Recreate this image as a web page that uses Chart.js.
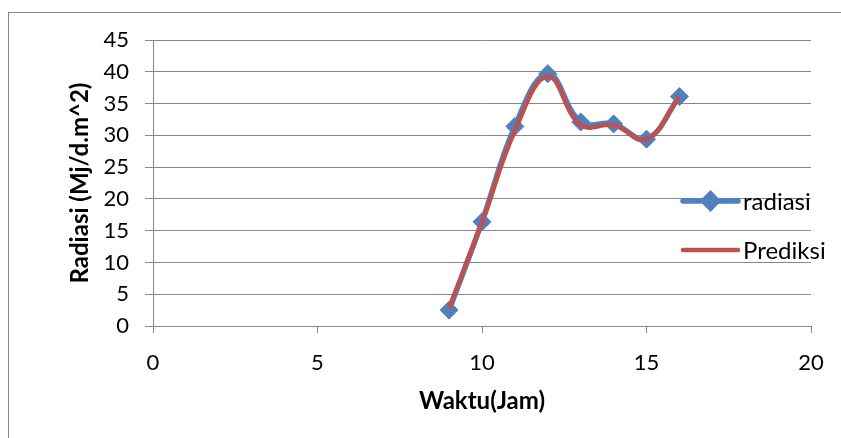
<!DOCTYPE html>
<html>
<head>
<meta charset="utf-8">
<title>Radiasi</title>
<script src="https://cdn.jsdelivr.net/npm/chart.js@4.4.1/dist/chart.umd.min.js"></script>
<style>
    body { margin: 0; background: #fff; }
    #wrap { width: 841px; height: 438px; }
</style>
</head>
<body>
<div id="wrap"><canvas id="radiasiChart" width="841" height="438"></canvas></div>
<script>
// Data
const jam = [9, 10, 11, 12, 13, 14, 15, 16];
const radiasi = [2.5, 16.4, 31.4, 39.7, 32.1, 31.8, 29.4, 36.1];
const prediksi = [2.8, 16.3, 30.7, 39.3, 31.6, 31.6, 29.4, 36.0];
const xTicks = [0, 5, 10, 15, 20];
const yTicks = [0, 5, 10, 15, 20, 25, 30, 35, 40, 45];

const BLUE = '#4F81BD';
const RED = '#C0504D';
const GRID = '#878787';
const FONT = 'Lato';

function toPoints(ys) {
    return jam.map((x, i) => ({ x: x, y: ys[i] }));
}

// Outer chart frame (Excel style)
const framePlugin = {
    id: 'frame',
    beforeDraw(chart) {
        const ctx = chart.ctx;
        ctx.save();
        ctx.fillStyle = '#fff';
        ctx.fillRect(0, 0, chart.width, chart.height);
        ctx.strokeStyle = GRID;
        ctx.lineWidth = 1;
        ctx.strokeRect(8.5, 12.5, chart.width + 20, chart.height + 20);
        ctx.restore();
    }
};

// Legend drawn over the plot area, like the original
const legendPlugin = {
    id: 'overlayLegend',
    afterDraw(chart) {
        const ctx = chart.ctx;
        const area = chart.chartArea;
        const lineX0 = area.right - 128;
        const lineX1 = area.right - 73;
        const textX = area.right - 68;
        const rows = [area.top + 161, area.top + 210];
        ctx.save();
        ctx.font = '24px ' + FONT;
        ctx.textBaseline = 'middle';
        ctx.fillStyle = '#000';
        chart.data.datasets.forEach((ds, i) => {
            const y = rows[i];
            ctx.strokeStyle = ds.borderColor;
            ctx.lineWidth = ds.borderWidth;
            ctx.lineCap = 'round';
            ctx.beginPath();
            ctx.moveTo(lineX0, y);
            ctx.lineTo(lineX1, y);
            ctx.stroke();
            if (ds.pointRadius > 0) {
                Chart.helpers.drawPoint(ctx, {
                    pointStyle: ds.pointStyle,
                    radius: 7,
                    borderWidth: 1
                }, (lineX0 + lineX1) / 2, y);
                ctx.fillStyle = ds.backgroundColor;
                ctx.fill();
                ctx.fillStyle = '#000';
            }
            ctx.fillText(ds.label, textX, y + 1);
        });
        ctx.restore();
    }
};

const ctx = document.getElementById('radiasiChart').getContext('2d');
const chart = new Chart(ctx, {
    type: 'scatter',
    data: {
        datasets: [{
            label: 'radiasi',
            data: toPoints(radiasi),
            showLine: true,
            borderColor: BLUE,
            backgroundColor: BLUE,
            borderWidth: 5.5,
            tension: 0.4,
            pointStyle: 'rectRot',
            pointRadius: 9,
            pointBorderWidth: 1,
            pointBorderColor: BLUE,
            pointBackgroundColor: BLUE,
            order: 1
        }, {
            label: 'Prediksi',
            data: toPoints(prediksi),
            showLine: true,
            borderColor: RED,
            backgroundColor: RED,
            borderWidth: 4.5,
            tension: 0.4,
            pointRadius: 0,
            order: 0
        }]
    },
    options: {
        responsive: false,
        animation: false,
        devicePixelRatio: 1,
        layout: {
            padding: { left: 0, top: 40, right: 30, bottom: 0 }
        },
        plugins: {
            legend: { display: false },
            tooltip: { enabled: false }
        },
        scales: {
            x: {
                type: 'linear',
                min: xTicks[0],
                max: xTicks[xTicks.length - 1],
                afterBuildTicks: (scale) => {
                    scale.ticks = xTicks.map(v => ({ value: v }));
                },
                afterFit: (scale) => { scale.height = 112; },
                grid: {
                    drawOnChartArea: false,
                    color: GRID,
                    tickLength: 7
                },
                border: { color: GRID },
                ticks: {
                    color: '#000',
                    padding: 17,
                    font: { family: FONT, size: 22 }
                },
                title: {
                    display: true,
                    text: 'Waktu(Jam)',
                    color: '#000',
                    padding: { top: 0, bottom: 22 },
                    font: { family: FONT, size: 24, weight: 'bold' }
                }
            },
            y: {
                type: 'linear',
                min: yTicks[0],
                max: yTicks[yTicks.length - 1],
                afterBuildTicks: (scale) => {
                    scale.ticks = yTicks.map(v => ({ value: v }));
                },
                afterFit: (scale) => { scale.width = 153; },
                grid: {
                    color: GRID,
                    tickLength: 8
                },
                border: { color: GRID },
                ticks: {
                    color: '#000',
                    padding: 16,
                    font: { family: FONT, size: 22 }
                },
                title: {
                    display: true,
                    text: 'Radiasi (Mj/d.m^2)',
                    color: '#000',
                    padding: { top: 66, bottom: 0 },
                    font: { family: FONT, size: 24, weight: 'bold' }
                }
            }
        }
    },
    plugins: [framePlugin, legendPlugin]
});
</script>
</body>
</html>
